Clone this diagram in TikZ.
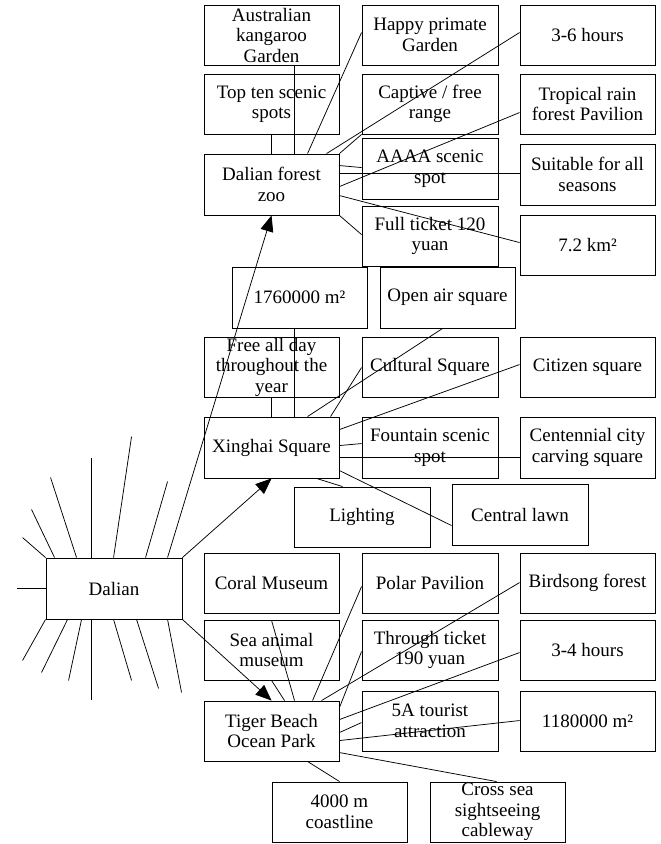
\documentclass[tikz,border=0pt]{standalone}
\usepackage{fontspec}
\setmainfont{Liberation Serif}
\usetikzlibrary{arrows.meta,calc}
\newcommand\boxfont{\fontsize{19}{20.5}\selectfont}
\begin{document}
\begin{tikzpicture}[x=1pt,y=-1pt,
  box/.style={draw, line width=0.9pt, minimum width=135pt, minimum height=60pt, inner sep=0pt, align=center, font=\boxfont},
  ln/.style={line width=0.75pt},
  arr/.style={ln, -{Triangle[length=16pt,width=13pt]}}]
\useasboundingbox (0,0) rectangle (661,844);
% column A x 204-339, B 362-498, C 520-655
\node[box] (kang) at (271.5,35) {Australian\\kangaroo\\Garden};
\node[box,minimum width=136pt] (happy) at (430,35) {Happy primate\\Garden};
\node[box] (h36) at (587.5,35) {3-6 hours};
\node[box] (topten) at (271.5,104) {Top ten scenic\\spots};
\node[box,minimum width=136pt] (captive) at (430,104) {Captive / free\\range};
\node[box] (tropical) at (587.5,104) {Tropical rain\\forest Pavilion};
\node[box,minimum height=61pt] (zoo) at (271.5,184.5) {Dalian forest\\zoo};
\node[box,minimum width=136pt,minimum height=61pt] (aaaa) at (430,168.5) {AAAA scenic\\spot};
\node[box,minimum height=61pt] (suitable) at (587.5,174.5) {Suitable for all\\seasons};
\node[box,minimum width=136pt] (full) at (430,236) {Full ticket 120\\yuan};
\node[box] (km72) at (587.5,245) {7.2 km²};
\node[box,minimum height=61pt] (m176) at (299.5,297.5) {1760000 m²};
\node[box,minimum height=61pt] (openair) at (447.5,297.5) {Open air square};
\node[box] (freeall) at (271.5,367) {Free all day\\throughout the\\year};
\node[box,minimum width=136pt] (cultural) at (430,367) {Cultural Square};
\node[box] (citizen) at (587.5,367) {Citizen square};
\node[box,minimum height=61pt] (xinghai) at (271.5,447.5) {Xinghai Square};
\node[box,minimum width=136pt,minimum height=61pt] (fountain) at (430,447.5) {Fountain scenic\\spot};
\node[box,minimum height=61pt] (centennial) at (587.5,447.5) {Centennial city\\carving square};
\node[box,minimum width=136pt] (lighting) at (362,517) {Lighting};
\node[box,minimum width=136pt,minimum height=61pt] (lawn) at (520,514.5) {Central lawn};
\node[box] (coral) at (271.5,583) {Coral Museum};
\node[box,minimum width=136pt] (polar) at (430,583) {Polar Pavilion};
\node[box] (birdsong) at (587.5,583) {Birdsong forest};
\node[box] (seaanimal) at (271.5,650) {Sea animal\\museum};
\node[box,minimum width=136pt] (through) at (430,650) {Through ticket\\190 yuan};
\node[box] (h34) at (587.5,650) {3-4 hours};
\node[box] (tiger) at (271.5,731) {Tiger Beach\\Ocean Park};
\node[box,minimum width=136pt] (fiveA) at (430,721) {5A tourist\\attraction};
\node[box] (m118) at (587.5,721) {1180000 m²};
\node[box] (coast) at (339.5,812) {4000 m\\coastline};
\node[box] (cable) at (497.5,812) {Cross sea\\sightseeing\\cableway};
\node[box,minimum width=136pt,minimum height=61pt] (dalian) at (114,588.5) {Dalian};

% Dalian forest zoo connectors
\draw[ln] ($(zoo.north west)+(91,0)$) -- ($(kang.south west)+(91,0)$);
\draw[ln] ($(zoo.north west)+(68,0)$) -- ($(topten.south west)+(68,0)$);
\draw[ln] ($(zoo.north west)+(104,0)$) -- ($(happy.north west)+(0,28)$);
\draw[ln] ($(zoo.north west)+(123,0)$) -- ($(h36.north west)+(0,28)$);
\draw[ln] (zoo.north east) -- (captive.south west);
\draw[ln] ($(zoo.north east)+(0,12)$) -- ($(aaaa.north west)+(0,30)$);
\draw[ln] ($(zoo.north east)+(0,20)$) -- ($(suitable.north west)+(0,30)$);
\draw[ln] ($(zoo.north east)+(0,33)$) -- ($(tropical.north west)+(0,39)$);
\draw[ln] ($(zoo.north east)+(0,42)$) -- ($(km72.north west)+(0,28)$);
\draw[ln] (zoo.south east) -- ($(full.north west)+(0,29)$);

% Xinghai Square connectors
\draw[ln] ($(xinghai.north west)+(91,0)$) -- ($(m176.south west)+(63,0)$);
\draw[ln] ($(xinghai.north west)+(68,0)$) -- ($(freeall.south west)+(68,0)$);
\draw[ln] ($(xinghai.north west)+(104,0)$) -- ($(openair.south west)+(63,0)$);
\draw[ln] ($(xinghai.north west)+(127,0)$) -- ($(cultural.north west)+(0,31)$);
\draw[ln] ($(xinghai.north east)+(0,13)$) -- ($(citizen.north west)+(0,28)$);
\draw[ln] ($(xinghai.north east)+(0,29)$) -- ($(fountain.north west)+(0,27)$);
\draw[ln] ($(xinghai.north east)+(0,41)$) -- ($(centennial.north west)+(0,41)$);
\draw[ln] ($(xinghai.north east)+(0,54)$) -- ($(lawn.north west)+(0,42)$);
\draw[ln] ($(xinghai.south west)+(113,0)$) -- ($(lighting.north west)+(49,0)$);

% Tiger Beach connectors
\draw[ln] ($(tiger.north west)+(91,0)$) -- ($(coral.south west)+(68,7)$);
\draw[ln] ($(tiger.north west)+(81,0)$) -- ($(seaanimal.south west)+(68,0)$);
\draw[ln] ($(tiger.north west)+(109,0)$) -- ($(polar.north west)+(0,34)$);
\draw[ln] ($(tiger.north west)+(118,0)$) -- ($(birdsong.north west)+(0,30)$);
\draw[ln] ($(tiger.north east)+(0,7)$) -- ($(through.north west)+(0,32)$);
\draw[ln] ($(tiger.north east)+(0,19)$) -- ($(h34.north west)+(0,33)$);
\draw[ln] ($(tiger.north east)+(0,32)$) -- ($(fiveA.north west)+(0,32)$);
\draw[ln] ($(tiger.north east)+(0,40)$) -- ($(m118.north west)+(0,30)$);
\draw[ln] ($(tiger.north east)+(0,52)$) -- ($(cable.north west)+(67,0)$);
\draw[ln] ($(tiger.south west)+(104,0)$) -- ($(coast.north west)+(68,0)$);

% Dalian arrows
\draw[arr] ($(dalian.north west)+(122,0)$) -- ($(zoo.south west)+(68,0)$);
\draw[arr] (dalian.north east) -- ($(xinghai.south west)+(68,0)$);
\draw[arr] (dalian.south east) -- ($(tiger.north west)+(68,0)$);

% Dalian rays
\draw[ln] (dalian.north west) -- ++(-23,-20);
\draw[ln] ($(dalian.north west)+(9,0)$) -- ++(-23,-48);
\draw[ln] ($(dalian.north west)+(31,0)$) -- ++(-26,-80);
\draw[ln] ($(dalian.north west)+(46,0)$) -- ++(0,-100);
\draw[ln] ($(dalian.north west)+(68,0)$) -- ++(18,-121);
\draw[ln] ($(dalian.north west)+(100,0)$) -- ++(22,-76);
\draw[ln] (dalian.west) -- ++(-29,0);
\draw[ln] (dalian.south west) -- ++(-23,41);
\draw[ln] ($(dalian.south west)+(22,0)$) -- ++(-26,53);
\draw[ln] ($(dalian.south west)+(36,0)$) -- ++(-13,61);
\draw[ln] ($(dalian.south west)+(46,0)$) -- ++(0,81);
\draw[ln] ($(dalian.south west)+(68,0)$) -- ++(18,61);
\draw[ln] ($(dalian.south west)+(91,0)$) -- ++(22,69);
\draw[ln] ($(dalian.south west)+(122,0)$) -- ++(14,73);
\end{tikzpicture}
\end{document}
